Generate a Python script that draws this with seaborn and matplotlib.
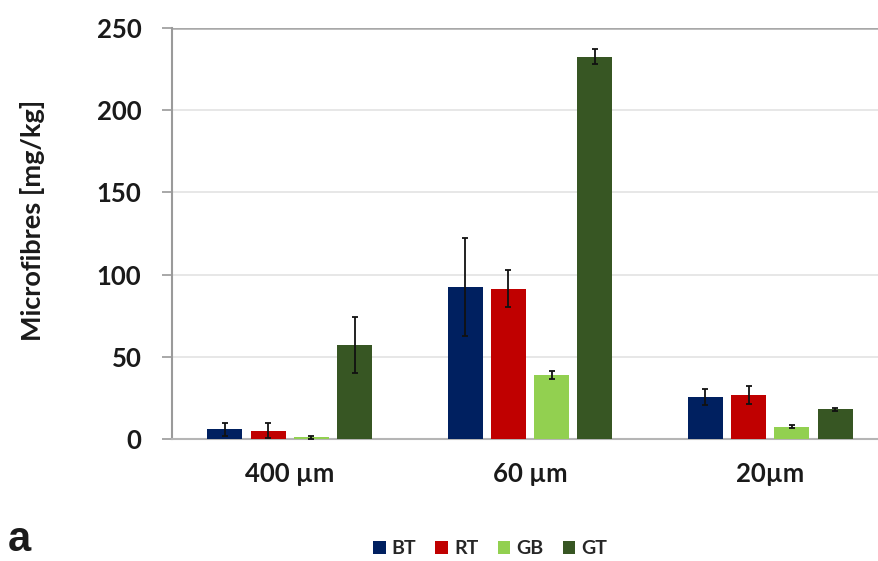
import numpy as np
import pandas as pd
import matplotlib
matplotlib.use("Agg")
import matplotlib.pyplot as plt
import seaborn as sns

# ------------------------------------------
# Data
# ------------------------------------------
sizes = ["400 \u00b5m", "60 \u00b5m", "20\u00b5m"]
sites = ["BT", "RT", "GB", "GT"]
colors = ["#002060", "#C00000", "#92D050", "#375623"]

bt_mean = [6, 92.5, 25.7]
rt_mean = [5, 91.5, 27]
gb_mean = [1, 39, 7.5]
gt_mean = [57, 232.5, 18]

bt_err = [4, 30, 5]
rt_err = [4.5, 11, 5.5]
gb_err = [0.7, 2.5, 1]
gt_err = [17, 4.5, 1]

means = [bt_mean, rt_mean, gb_mean, gt_mean]
errs = [bt_err, rt_err, gb_err, gt_err]

rows = []
for s, m, e in zip(sites, means, errs):
    for size, v, ev in zip(sizes, m, e):
        rows.append({"Size": size, "Site": s, "Value": v, "Err": ev})
df = pd.DataFrame(rows)

# ------------------------------------------
# Plot
# ------------------------------------------
sns.set_style("white")
plt.rcParams["font.family"] = ["Lato", "DejaVu Sans"]

fig = plt.figure(figsize=(8.79, 5.61), dpi=100)
ax = fig.add_axes([172 / 879, 122 / 561, 716 / 879, 411 / 561])

sns.barplot(
    data=df, x="Size", y="Value", hue="Site",
    order=sizes, hue_order=sites, palette=colors,
    width=0.72, gap=0.19, errorbar=None, saturation=1,
    linewidth=0, ax=ax, zorder=3,
)

# error bars on top of each bar
for cont, s in zip(ax.containers, sites):
    sub = df[df["Site"] == s].set_index("Size").loc[sizes]
    xs = [p.get_x() + p.get_width() / 2 for p in cont.patches]
    ax.errorbar(xs, sub["Value"], yerr=sub["Err"], fmt="none",
                ecolor="#111111", elinewidth=1.3, capsize=2.5,
                capthick=1.3, zorder=4)

ax.set_ylim(0, 250)
ax.set_xlim(-0.49, 2.49)
ax.set_yticks(range(0, 251, 50))
ax.yaxis.grid(True, color="#e3e3e3", linewidth=1.2, zorder=0)
ax.set_axisbelow(True)

for side in ["top", "right"]:
    ax.spines[side].set_visible(False)
ax.spines["left"].set_color("#9a9a9a")
ax.spines["left"].set_linewidth(1.5)
ax.spines["bottom"].set_color("#b5b5b5")
ax.spines["bottom"].set_linewidth(1.5)
ax.axhline(250, color="#a8a8a8", linewidth=1.8, zorder=2)

ax.tick_params(axis="y", left=True, length=7, width=1.2, color="#9a9a9a",
               labelsize=18.5, pad=15)
ax.tick_params(axis="x", bottom=False, labelsize=18.5, pad=13)
for lab in ax.get_yticklabels() + ax.get_xticklabels():
    lab.set_fontweight("bold")
    lab.set_color("#1a1a1a")

ax.set_xlabel("")
ax.set_ylabel("Microfibres [mg/kg]", fontsize=19.5, fontweight="bold",
              color="#1a1a1a")
ax.yaxis.set_label_coords((45 - 172) / 716, (561 - 220 - 122) / 411)

handles, labels = ax.get_legend_handles_labels()
ax.get_legend().remove()
fig.legend(handles, labels, loc="center", bbox_to_anchor=(490 / 879, 1 - 549 / 561),
           ncol=4, frameon=False, handlelength=0.65, handleheight=0.65,
           handletextpad=0.3, columnspacing=1.0,
           prop={"size": 14, "weight": "bold"})

fig.text(8 / 879, 1 / 561, "a", fontsize=30, fontweight="bold",
         family=["Liberation Sans", "DejaVu Sans"],
         va="bottom", ha="left", color="#1a1a1a")

fig.savefig("out.png", dpi=100)
